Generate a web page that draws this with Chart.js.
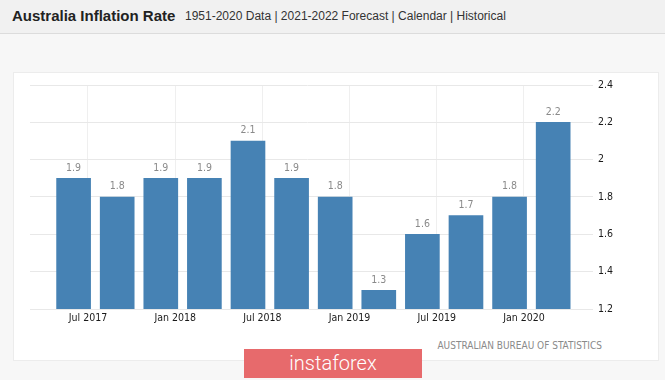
<!DOCTYPE html>
<html>
<head>
<meta charset="utf-8">
<script src="https://cdn.jsdelivr.net/npm/chart.js@4.4.0/dist/chart.umd.min.js"></script>
<style>
    body { margin: 0; width: 665px; height: 380px; background: #f7f7f7; position: relative; overflow: hidden; font-family: 'Liberation Sans', Arial, sans-serif; }
    .header { position: absolute; left: 0; top: 0; width: 665px; height: 33px; background: #f1f1f1; border-bottom: 1px solid #dcdcdc; }
    .header .title { position: absolute; left: 12px; top: 7px; font-size: 15px; font-weight: bold; color: #222; }
    .header .sub { position: absolute; left: 185px; top: 9px; font-size: 12px; color: #333; }
    .panel { position: absolute; left: 13px; top: 72px; width: 644px; height: 287px; background: #fff; border: 1px solid #ececec; }
    .chart-box { position: absolute; left: 13px; top: 72px; width: 645px; height: 258px; }
    .source { position: absolute; right: 63px; top: 340px; font-family: 'DejaVu Sans Condensed', 'DejaVu Sans', sans-serif; font-size: 10px; color: #8a8a8a; }
    .wm { position: absolute; left: 244px; top: 349px; width: 178px; height: 29px; background: #e76a6c; color: #fff; font-family: Roboto, sans-serif; font-weight: 300; font-size: 20px; text-align: center; line-height: 29px; }
</style>
</head>
<body>
<div class="header">
    <span class="title">Australia Inflation Rate</span>
    <span class="sub">1951-2020 Data | 2021-2022 Forecast | Calendar | Historical</span>
</div>
<div class="panel"></div>
<div class="chart-box"><canvas id="chartInflacao"></canvas></div>
<div class="source">AUSTRALIAN BUREAU OF STATISTICS</div>
<div class="wm">instaforex</div>

<script>
// quarterly CPI, year over year (%)
const quarters = ['Q2 2017', 'Q3 2017', 'Q4 2017', 'Q1 2018', 'Q2 2018', 'Q3 2018',
                  'Q4 2018', 'Q1 2019', 'Q2 2019', 'Q3 2019', 'Q4 2019', 'Q1 2020'];
const inflation = [1.9, 1.8, 1.9, 1.9, 2.1, 1.9, 1.8, 1.3, 1.6, 1.7, 1.8, 2.2];
const xTickLabels = ['Jul 2017', 'Jan 2018', 'Jul 2018', 'Jan 2019', 'Jul 2019', 'Jan 2020'];
const yTicks = [1.2, 1.4, 1.6, 1.8, 2, 2.2, 2.4];

const fonteEixo = { family: "'DejaVu Sans Condensed', 'DejaVu Sans', sans-serif", size: 10.5 };

// value labels above bars
const rotulosBarras = {
    id: 'rotulosBarras',
    afterDatasetsDraw(chart) {
        const ctx = chart.ctx;
        const meta = chart.getDatasetMeta(0);
        ctx.save();
        ctx.fillStyle = '#8a8a8a';
        ctx.font = "10.5px 'DejaVu Sans Condensed', 'DejaVu Sans', sans-serif";
        ctx.textAlign = 'center';
        ctx.textBaseline = 'bottom';
        meta.data.forEach((bar, i) => {
            ctx.fillText(inflation[i].toFixed(1), bar.x, bar.y - 5);
        });
        ctx.restore();
    }
};

const ctx = document.getElementById('chartInflacao');
new Chart(ctx, {
    type: 'bar',
    data: {
        datasets: [{
            label: 'Inflation Rate',
            data: inflation.map((v, i) => ({ x: i, y: v })),
            backgroundColor: '#4682b4',
            barThickness: 34
        }]
    },
    options: {
        responsive: true,
        maintainAspectRatio: false,
        animation: false,
        layout: { padding: { left: 17, top: 13, right: 0, bottom: 0 } },
        plugins: {
            legend: { display: false },
            tooltip: { enabled: false }
        },
        scales: {
            x: {
                type: 'linear',
                offset: false,
                min: -1.0,
                max: 11.73,
                grid: { color: '#efefef', drawTicks: false, offset: false },
                border: { display: false },
                afterBuildTicks: scale => {
                    scale.ticks = xTickLabels.map((_, k) => ({ value: 2 * k + 0.33 }));
                },
                afterFit: scale => { scale.height = 21; },
                ticks: {
                    color: '#1a1a1a',
                    font: fonteEixo,
                    padding: 3,
                    maxRotation: 0,
                    autoSkip: false,
                    callback: (val, idx) => xTickLabels[idx]
                }
            },
            y: {
                position: 'right',
                min: yTicks[0],
                max: yTicks[yTicks.length - 1],
                grid: { color: '#e8e8e8', tickLength: 8 },
                border: { display: false },
                afterBuildTicks: scale => {
                    scale.ticks = yTicks.map(v => ({ value: v }));
                },
                afterFit: scale => { scale.width = 73; },
                ticks: {
                    color: '#1a1a1a',
                    font: fonteEixo,
                    padding: 5,
                    callback: val => String(val)
                }
            }
        }
    },
    plugins: [rotulosBarras]
});
</script>
</body>
</html>
